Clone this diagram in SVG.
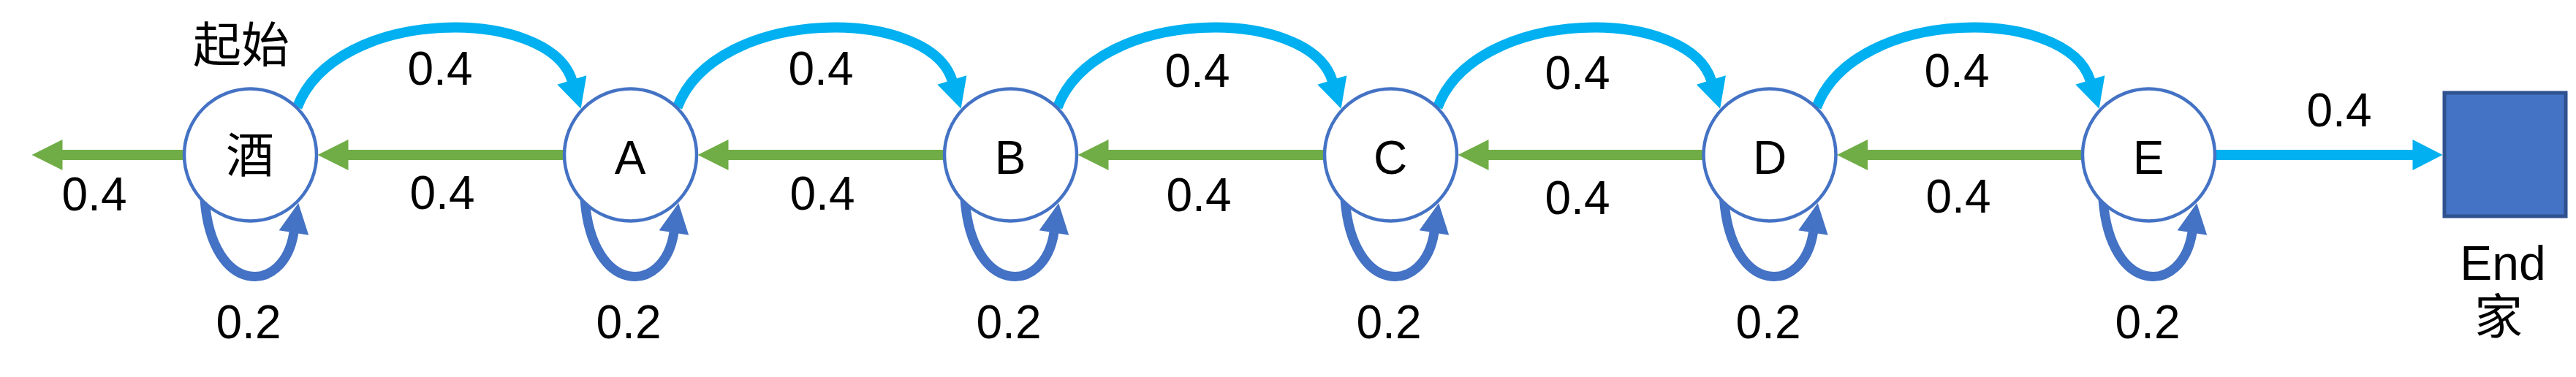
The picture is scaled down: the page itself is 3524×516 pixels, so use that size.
<svg xmlns="http://www.w3.org/2000/svg" width="3524" height="516" viewBox="0 0 3524 516">
<style>
.node{fill:#FFFFFF;stroke:#4472C4;stroke-width:4.5}
.lbl{font-family:"Liberation Sans",Arial,sans-serif;font-size:64px;fill:#000;text-anchor:middle}
.cjk{font-family:"Liberation Sans","Noto Sans CJK SC",sans-serif;font-size:66px;fill:#000;text-anchor:middle}
.fwd{fill:none;stroke:#00B0F0;stroke-width:14;marker-end:url(#arrCyan)}
.back{fill:none;stroke:#70AD47;stroke-width:14;marker-end:url(#arrGreen)}
.loop{fill:none;stroke:#4472C4;stroke-width:13;marker-end:url(#arrLoop)}
</style>
<defs>
<marker id="arrCyan" markerUnits="userSpaceOnUse" viewBox="0 0 41 42" markerWidth="41" markerHeight="42" refX="0.5" refY="21" orient="auto" overflow="visible"><path d="M0,0 L41,21 L0,42 Z" fill="#00B0F0"/></marker>
<marker id="arrGreen" markerUnits="userSpaceOnUse" viewBox="0 0 42 42" markerWidth="42" markerHeight="42" refX="0.5" refY="21" orient="auto" overflow="visible"><path d="M0,0 L42,21 L0,42 Z" fill="#70AD47"/></marker>
<marker id="arrLoop" markerUnits="userSpaceOnUse" viewBox="0 0 41 41" markerWidth="41" markerHeight="41" refX="0.5" refY="20.5" orient="auto" overflow="visible"><path d="M0,0 L41,20.5 L0,41 Z" fill="#4472C4"/></marker>
</defs>
<g id="connectors">
<path class="fwd" d="M406.5,147 C459.5,8 750.5,8 782.5,110"/>
<path class="fwd" d="M926.5,147 C979.5,8 1270.5,8 1302.5,110"/>
<path class="fwd" d="M1446.5,147 C1499.5,8 1790.5,8 1822.5,110"/>
<path class="fwd" d="M1966.5,147 C2019.5,8 2309,8 2341,110"/>
<path class="fwd" d="M2485,147 C2538,8 2827.5,8 2859.5,110"/>
<path class="fwd" d="M3031,212 L3301,212"/>
<path class="back" d="M771,212 L476,212"/>
<path class="back" d="M1291,212 L996,212"/>
<path class="back" d="M1811,212 L1516,212"/>
<path class="back" d="M2329.5,212 L2036,212"/>
<path class="back" d="M2848,212 L2554.5,212"/>
<path class="back" d="M251,212 L85,212"/>
<path class="loop" d="M280,273 C290,405 388.5,405 402,318"/>
<path class="loop" d="M800,273 C810,405 908.5,405 922,318"/>
<path class="loop" d="M1320,273 C1330,405 1428.5,405 1442,318"/>
<path class="loop" d="M1840,273 C1850,405 1948.5,405 1962,318"/>
<path class="loop" d="M2358.5,273 C2368.5,405 2467,405 2480.5,318"/>
<path class="loop" d="M2877,273 C2887,405 2985.5,405 2999,318"/>
<text class="lbl" x="602" y="116">0.4</text>
<text class="lbl" x="1123" y="116">0.4</text>
<text class="lbl" x="1638" y="119">0.4</text>
<text class="lbl" x="2158" y="122">0.4</text>
<text class="lbl" x="2677" y="119">0.4</text>
<text class="lbl" x="3200" y="173">0.4</text>
<text class="lbl" x="129" y="288">0.4</text>
<text class="lbl" x="605" y="286">0.4</text>
<text class="lbl" x="1125" y="287">0.4</text>
<text class="lbl" x="1640" y="289">0.4</text>
<text class="lbl" x="2158" y="293">0.4</text>
<text class="lbl" x="2679" y="291">0.4</text>
<text class="lbl" x="340" y="463">0.2</text>
<text class="lbl" x="860" y="463">0.2</text>
<text class="lbl" x="1380" y="463">0.2</text>
<text class="lbl" x="1900" y="463">0.2</text>
<text class="lbl" x="2419" y="463">0.2</text>
<text class="lbl" x="2938" y="463">0.2</text>
</g>
<g id="node-start">
<circle class="node" cx="342.5" cy="212" r="90.5"/>
<text class="cjk" x="342" y="236">酒</text>
<text class="cjk" x="330" y="85">起始</text>
</g>
<g id="node-A"><circle class="node" cx="862.5" cy="212" r="90.5"/><text class="lbl" x="862" y="238">A</text></g>
<g id="node-B"><circle class="node" cx="1382.5" cy="212" r="90.5"/><text class="lbl" x="1382" y="238">B</text></g>
<g id="node-C"><circle class="node" cx="1902.5" cy="212" r="90.5"/><text class="lbl" x="1902" y="238">C</text></g>
<g id="node-D"><circle class="node" cx="2421" cy="212" r="90.5"/><text class="lbl" x="2421" y="238">D</text></g>
<g id="node-E"><circle class="node" cx="2939.5" cy="212" r="90.5"/><text class="lbl" x="2939" y="238">E</text></g>
<g id="node-end">
<rect x="3344" y="127" width="166" height="169" fill="#4472C4" stroke="#2F528F" stroke-width="5"/>
<text class="cjk" x="3424" y="383">End</text>
<text class="cjk" x="3418" y="457">家</text>
</g>
</svg>
